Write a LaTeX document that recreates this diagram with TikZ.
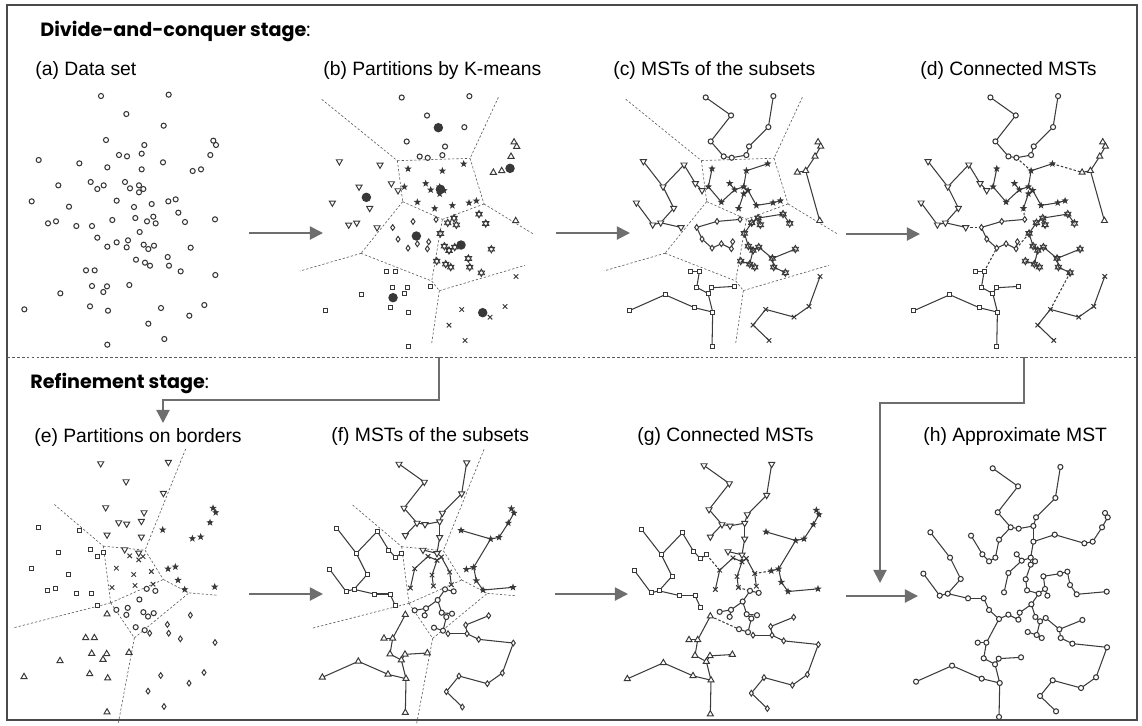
\documentclass[tikz,border=0pt]{standalone}
\usepackage{fontspec}
\setmainfont{Liberation Sans}
\newfontfamily\headfont{Poppins}
\usepackage{tikz}
\usetikzlibrary{arrows.meta,shapes.geometric,shapes.misc}

\definecolor{ptc}{HTML}{383838}
\definecolor{edgc}{HTML}{3C3C3C}
\definecolor{arrc}{HTML}{6E6E6E}
\definecolor{cellc}{HTML}{5A5A5A}
\definecolor{framec}{HTML}{4A4A4A}

\tikzset{
  mO/.style={circle, draw=ptc, fill=white, line width=0.6pt, inner sep=0pt, minimum size=2.9pt},
  mUp/.style={regular polygon, regular polygon sides=3, draw=ptc, fill=white, line width=0.55pt, inner sep=0pt, minimum size=4pt},
  mDn/.style={mUp, shape border rotate=180},
  mQ/.style={rectangle, draw=ptc, fill=white, line width=0.55pt, inner sep=0pt, minimum size=2.3pt},
  mD/.style={diamond, draw=ptc, fill=white, line width=0.55pt, inner sep=0pt, minimum width=2.5pt, minimum height=3.5pt},
  mS/.style={star, star points=5, star point ratio=2.4, fill=ptc, inner sep=0pt, minimum size=4.4pt},
  mHexUp/.style={regular polygon, regular polygon sides=3, draw=ptc, line width=0.5pt, inner sep=0pt, minimum size=4.2pt},
  mHexDn/.style={mHexUp, shape border rotate=180},
  mX/.style={cross out, draw=ptc, line width=0.55pt, inner sep=0pt, minimum size=2pt},
  mC/.style={circle, fill=ptc, inner sep=0pt, minimum size=5.4pt},
  mstline/.style={draw=edgc, line width=0.6pt},
  joinline/.style={draw=edgc, line width=0.6pt, dash pattern=on 1.4pt off 1.1pt},
  cellline/.style={draw=cellc, line width=0.35pt, dash pattern=on 1.3pt off 1.1pt},
  flowarrow/.style={draw=arrc, line width=1.1pt, -{Triangle[length=7.5pt, width=7.5pt]}},
  panellabel/.style={anchor=base west, inner sep=0pt, font=\fontsize{11pt}{13pt}\selectfont},
  stagelabel/.style={anchor=base west, inner sep=0pt, font=\fontsize{10.9pt}{13pt}\selectfont\headfont},
}

% the 80 data points (pixel units of panel a)
\def\ptlist{1/303/48,2/506/44,3/379/102,4/491/137,5/318/180,6/433/195,7/640/182,8/648/195,
  9/116/240,10/238/250,11/357/225,12/381/229,13/425/221,14/489/247,15/631/225,16/322/262,
  17/425/268,18/578/273,19/603/268,20/175/316,21/272/306,22/292/327,23/311/316,24/375/306,
  25/390/325,26/417/316,27/430/327,28/417/337,29/95/364,30/207/380,31/350/362,32/402/381,
  33/455/372,34/505/364,35/527/358,36/535/398,37/144/430,38/168/424,39/229/438,40/276/438,
  41/337/420,42/406/414,43/441/424,44/460/410,45/467/430,46/555/426,47/645/418,48/419/456,
  49/292/473,50/322/500,51/350/487,52/384/481,53/380/502,54/431/494,55/445/507,56/462/497,
  57/572/503,58/503/531,59/408/539,60/435/548,61/450/557,62/507/557,63/542/574,64/258/571,
  65/284/571,66/646/585,67/276/618,68/321/619,69/310/636,70/388/615,71/181/640,72/73/688,
  73/270/679,74/324/692,75/483/684,76/613/675,77/568/707,78/445/731,79/493/777,80/322/794}

% K-means groups
\def\grpO{1,2,3,4,5,6,11,12,13}
\def\grpT{7,8,15,18,19,47}
\def\grpV{9,10,20,21,22,29,30,37,38,39}
\def\grpS{14,16,17,23,24,25,26,27,28,31,32,33,34,35}
\def\grpH{36,43,44,45,46,48,54,55,56,57,58,59,60,61,62,63}
\def\grpD{40,41,42,49,50,51,52,53}
\def\grpQ{64,65,67,68,69,70,71,72,73,74,80}
\def\grpX{66,75,76,77,78,79}
\def\ctrlist{c1/413/138.5,c2/628/260.5,c3/197/347.5,c4/419/323.5,c5/347/463.5,c6/481/490.5,c7/277/648.5,c8/546/693.5}

% border groups
\def\bndV{1,2,3,4,5,6,11,12,13,16,17,24,26}
\def\bndS{7,8,14,15,18,19,34,35,36,46,47}
\def\bndQ{9,10,20,21,22,23,29,30,37,38,39,40,49}
\def\bndX{25,27,28,31,32,33,41,42,44}
\def\bndO{43,45,48,51,52,53,54,55,56,59,60}
\def\bndT{50,64,65,67,68,69,70,71,72,73,74,80}
\def\bndD{57,58,61,62,63,66,75,76,77,78,79}

% cell borders
\def\vorAcor{vA/290/237.5,vB/508/230.5,vC/306/360.5,vD/425/413.5,vE/550/367.5,vF/181/515.5,vG/393/598.5,vH/416/627.5,
  vt1/63/53.5,vt2/593/47.5,vt3/698/457.5,vt4/-2/568.5,vt5/393/785.5,vt6/673/551.5}
\def\vorAedg{vt1/vA,vt2/vB,vA/vB,vA/vC,vB/vE,vC/vD,vD/vE,vE/vt3,vC/vF,vF/vt4,vF/vG,vD/vG,vG/vH,vH/vt5,vH/vt6}
\def\vorBcor{wA/311/296,wB/436/308,wC/333/466,wD/491/396,wE/568/436,wF/404/571,
  wt1/164/171,wt2/558/4,wt3/651/443,wt4/41/541,wt5/356/826}
\def\vorBedg{wt1/wA,wt2/wB,wA/wB,wA/wC,wB/wD,wD/wE,wE/wt3,wC/wt4,wC/wD,wC/wF,wF/wE,wF/wt5}

% trees
\def\mstA{1/3,3/5,5/11,11/12,12/13,13/6,6/4,4/2,7/8,8/15,15/19,19/18,19/47,
  9/20,20/10,10/21,21/22,20/30,30/38,29/37,37/38,38/39,
  16/23,23/31,31/25,25/26,26/17,17/14,26/27,27/28,28/32,27/33,33/34,34/35,24/25,
  40/41,41/42,40/49,49/50,50/51,51/53,53/52,
  44/36,36/46,43/44,44/45,43/48,48/54,54/55,55/60,59/60,60/61,55/56,56/58,58/57,58/62,62/63,
  64/65,65/67,67/69,69/68,68/70,69/74,72/71,71/73,73/74,74/80,
  66/76,76/77,77/75,75/78,78/79}
\def\joinA{12/17,14/18,39/40,32/42,53/48,65/50,63/75}
\def\mstB{1/3,3/5,5/11,11/12,12/13,13/6,6/4,4/2,11/16,13/17,17/26,24/26,
  7/8,8/15,15/19,19/18,14/18,18/35,35/34,35/36,36/46,46/47,
  9/20,20/10,10/21,21/22,22/23,20/30,30/38,29/37,37/38,38/39,39/40,40/49,
  41/31,31/25,25/28,28/27,28/32,32/42,27/33,33/44,
  43/48,43/45,48/52,52/51,52/53,48/54,54/55,54/56,55/60,59/60,
  50/65,64/65,65/67,67/69,69/68,68/70,69/74,72/71,71/73,73/74,74/80,
  57/58,58/62,61/62,62/63,63/66,66/76,76/77,77/75,75/78,78/79}
\def\joinB{26/28,23/31,33/34,42/43,50/59,60/61}
\def\mstC{1/3,3/5,5/11,11/12,12/13,13/6,6/4,4/2,13/17,17/14,14/18,18/19,19/15,15/8,8/7,
  11/16,16/23,23/22,22/21,21/10,17/26,24/25,25/26,26/27,26/28,25/31,31/41,28/32,32/42,42/43,
  43/44,44/45,44/33,33/34,34/35,35/36,36/46,46/47,
  43/48,48/52,52/53,51/53,50/51,48/54,54/55,55/56,55/60,59/60,60/61,
  56/58,58/57,58/62,62/63,63/66,66/76,76/77,77/75,75/78,78/79,
  9/20,20/30,30/38,29/37,37/38,38/39,39/40,40/49,49/50,
  50/65,64/65,65/67,67/69,69/68,68/70,69/74,72/71,71/73,73/74,74/80}

\newcommand\placepts{\foreach \i/\x/\y in \ptlist {\coordinate (p\i) at ({\x/3},{80+\y/3});}}
\newcommand\markpts[2]{\foreach \i in #2 {\node[#1] (m\i) at (p\i) {};}}
\newcommand\hexpts[1]{\foreach \i in #1 {\node[mHexUp] (m\i) at (p\i) {}; \node[mHexDn] (n\i) at (p\i) {};}}
\newcommand\linkpts[2]{\foreach \a/\b in #2 {\draw[#1] (p\a) -- (p\b);}}
\newcommand\cellpts[2]{\foreach \n/\x/\y in #1 {\coordinate (\n) at ({\x/3},{80+\y/3});}
  \foreach \a/\b in #2 {\draw[cellline] (\a) -- (\b);}}
\newcommand\kmeansmarks{\markpts{mO}{\grpO}\markpts{mUp}{\grpT}\markpts{mDn}{\grpV}\markpts{mS}{\grpS}
  \hexpts{\grpH}\markpts{mD}{\grpD}\markpts{mQ}{\grpQ}\markpts{mX}{\grpX}}
\newcommand\bordermarks{\markpts{mDn}{\bndV}\markpts{mS}{\bndS}\markpts{mQ}{\bndQ}\markpts{mX}{\bndX}
  \markpts{mO}{\bndO}\markpts{mUp}{\bndT}\markpts{mD}{\bndD}}

\begin{document}
\begin{tikzpicture}[x=0.02cm, y=-0.02cm]
\useasboundingbox (0,0) rectangle (1142,725);
\draw[framec, line width=0.8pt] (7,5) rectangle (1137,720);
\draw[cellc, line width=0.4pt, dash pattern=on 1.6pt off 1.2pt] (7,357) -- (1137,357);

\node[stagelabel] (top) at (40,36) {\bfseries Divide-and-conquer stage\mdseries:};
\node[stagelabel] (bottom) at (30,388) {\bfseries Refinement stage\mdseries:};

\node[panellabel] (la) at (35,75) {(a) Data set};
\node[panellabel] (lb) at (323,75) {(b) Partitions by K-means};
\node[panellabel] (lc) at (613,75) {(c) MSTs of the subsets};
\node[panellabel] (ld) at (920,75) {(d) Connected MSTs};
\node[panellabel] (le) at (34,442) {(e) Partitions on borders};
\node[panellabel] (lf) at (331,441) {(f) MSTs of the subsets};
\node[panellabel] (lg) at (637,441) {(g) Connected MSTs};
\node[panellabel] (lh) at (923,441) {(h) Approximate MST};

% (a) data set
\begin{scope}
  \placepts
  \foreach \i in {1,...,80} {\node[mO] (m\i) at (p\i) {};}
\end{scope}

% (b) partitions by K-means
\begin{scope}[shift={(300.7,1.5)}]
  \placepts
  \cellpts{\vorAcor}{\vorAedg}
  \kmeansmarks
  \foreach \n/\x/\y in \ctrlist {\node[mC] (\n) at ({\x/3},{80+\y/3}) {};}
\end{scope}

% (c) MSTs of the subsets
\begin{scope}[shift={(604.7,1.4)}]
  \placepts
  \cellpts{\vorAcor}{\vorAedg}
  \linkpts{mstline}{\mstA}
  \kmeansmarks
\end{scope}

% (d) connected MSTs
\begin{scope}[shift={(889.4,1.4)}]
  \placepts
  \linkpts{mstline}{\mstA}
  \linkpts{joinline}{\joinA}
  \kmeansmarks
\end{scope}

% (e) partitions on borders
\begin{scope}[shift={(-0.3,367.5)}]
  \placepts
  \cellpts{\vorBcor}{\vorBedg}
  \bordermarks
\end{scope}

% (f) MSTs of the subsets
\begin{scope}[shift={(298,368)}]
  \placepts
  \cellpts{\vorBcor}{\vorBedg}
  \linkpts{mstline}{\mstB}
  \bordermarks
\end{scope}

% (g) connected MSTs
\begin{scope}[shift={(603,369.5)}]
  \placepts
  \linkpts{mstline}{\mstB}
  \linkpts{joinline}{\joinB}
  \bordermarks
\end{scope}

% (h) approximate MST
\begin{scope}[shift={(891.7,372.3)}]
  \placepts
  \linkpts{mstline}{\mstC}
  \foreach \i in {1,...,80} {\node[mO] (m\i) at (p\i) {};}
\end{scope}

% flow between the panels
\coordinate (ab1) at (249,233);  \coordinate (ab2) at (323,233);
\coordinate (bc1) at (556,233);  \coordinate (bc2) at (630,233);
\coordinate (cd1) at (846,234);  \coordinate (cd2) at (920,234);
\coordinate (ef1) at (249,594);  \coordinate (ef2) at (323,594);
\coordinate (fg1) at (555,594);  \coordinate (fg2) at (628,594);
\coordinate (gh1) at (846,596);  \coordinate (gh2) at (918,596);
\coordinate (bdrop) at (439,357); \coordinate (ebend) at (163,400); \coordinate (ein) at (163,423);
\coordinate (ddrop) at (1024,357); \coordinate (hbend) at (880,403); \coordinate (hin) at (880,583);
\foreach \s/\t in {ab1/ab2,bc1/bc2,cd1/cd2,ef1/ef2,fg1/fg2,gh1/gh2}
  \draw[flowarrow] (\s) -- (\t);
\draw[flowarrow] (bdrop) |- (ebend) -- (ein);
\draw[flowarrow] (ddrop) |- (hbend) -- (hin);
\end{tikzpicture}
\end{document}
